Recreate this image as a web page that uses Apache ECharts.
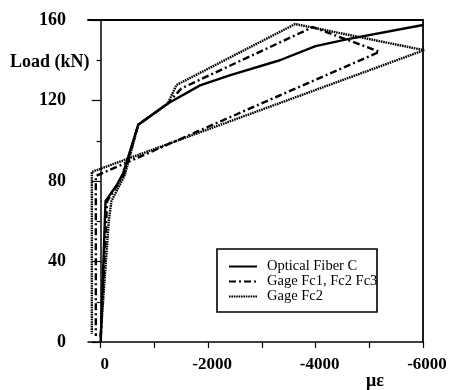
<!DOCTYPE html>
<html>
<head>
<meta charset="utf-8">
<script src="https://cdn.jsdelivr.net/npm/echarts@6/dist/echarts.min.js"></script>
<style>html,body{margin:0;padding:0;background:#fff}#c{width:450px;height:390px}</style>
</head>
<body>
<div id="c"></div>
<script>
// Optical Fiber C (solid)
const fiberStrain = [0, -90, -300, -420, -700, -1250, -1850, -2400, -3335, -4000, -4600, -6000];
const fiberLoad   = [0, 70, 78, 84, 108, 118.5, 127.5, 132.5, 140, 147, 150.5, 157.5];
// Gage Fc1, Fc2 Fc3 (dash-dot)
const gageAStrain = [0, -120, -430, -700, -1250, -1500, -3950, -5190, 90, 90];
const gageALoad   = [2, 70, 83, 108, 118.5, 126, 156.5, 144.2, 82.5, 3];
// Gage Fc2 (dotted)
const gageBStrain = [0, -150, -200, -450, -700, -1250, -1410, -3620, -6020, 165, 165];
const gageBLoad   = [3, 60, 70, 83, 108, 118.5, 127.7, 158, 145, 84.5, 4];

const seriesNames = ['Optical Fiber C', 'Gage Fc1, Fc2 Fc3', 'Gage Fc2'];
const xTickValues = [0, -1000, -2000, -3000, -4000, -5000, -6000];
const xLabelValues = [0, -2000, -4000, -6000];
const yTickLabels = [0, 40, 80, 120, 160];

const pairs = (xs, ys) => xs.map((x, i) => [x, ys[i]]);
const serif = '"Liberation Serif", "DejaVu Serif", serif';

const chart = echarts.init(document.getElementById('c'), null, {renderer: 'canvas'});
chart.setOption({
  animation: false,
  backgroundColor: '#fff',
  color: ['#000', '#000', '#000'],
  grid: {left: 88, right: 27, top: 20, bottom: 48, containLabel: false},
  xAxis: [{
    type: 'value', inverse: true, min: -6000, max: 236,
    axisLine: {onZero: false, lineStyle: {color: '#000', width: 1.5}},
    axisTick: {show: true, customValues: xTickValues, length: 6, lineStyle: {color: '#000', width: 1.2}},
    axisLabel: {customValues: xLabelValues, formatter: v => String(v), margin: 14, padding: [0, 0, 0, 8],
      color: '#000', fontFamily: serif, fontWeight: 'bold', fontSize: 17},
    splitLine: {show: false}
  }, {
    type: 'value', inverse: true, min: -6000, max: 236, position: 'top',
    axisLine: {onZero: false, lineStyle: {color: '#000', width: 1.8}},
    axisTick: {show: false}, axisLabel: {show: false}, splitLine: {show: false}
  }],
  yAxis: [{
    type: 'value', min: 0, max: 160, interval: 40,
    axisLine: {onZero: true, onZeroAxisIndex: 0, lineStyle: {color: '#000', width: 1.5}},
    axisTick: {show: true, length: 9, lineStyle: {color: '#000', width: 1.2}},
    minorTick: {show: true, splitNumber: 2, length: 4, lineStyle: {color: '#000', width: 1.2}},
    axisLabel: {customValues: yTickLabels, margin: 22, color: '#000', fontFamily: serif, fontWeight: 'bold', fontSize: 18},
    splitLine: {show: false}
  }, {
    type: 'value', min: 0, max: 160, position: 'right',
    axisLine: {show: true, onZero: false, lineStyle: {color: '#000', width: 1.8}},
    axisTick: {show: false}, axisLabel: {show: false}, splitLine: {show: false}
  }],
  legend: {
    orient: 'vertical', left: 228, top: 259, padding: 0,
    itemWidth: 28, itemHeight: 8, itemGap: 0,
    data: seriesNames,
    itemStyle: {opacity: 0},
    textStyle: {color: '#000', fontFamily: serif, fontSize: 14.5, lineHeight: 13.5, padding: [0, 0, 0, 5]}
  },
  series: [{
    name: seriesNames[0], type: 'line', symbol: 'none', showSymbol: false, clip: false,
    data: pairs(fiberStrain, fiberLoad),
    itemStyle: {color: '#000'},
    lineStyle: {color: '#000', width: 2.4, type: 'solid'}
  }, {
    name: seriesNames[1], type: 'line', symbol: 'none', showSymbol: false, clip: false,
    data: pairs(gageAStrain, gageALoad),
    itemStyle: {color: '#000'},
    lineStyle: {color: '#000', width: 2.4, type: [7, 3, 2, 3]}
  }, {
    name: seriesNames[2], type: 'line', symbol: 'none', showSymbol: false, clip: false,
    data: pairs(gageBStrain, gageBLoad),
    itemStyle: {color: '#000'},
    lineStyle: {color: '#000', width: 2.4, type: [1.6, 0.8]}
  }],
  graphic: [{
    type: 'rect', z: 10, silent: true,
    shape: {x: 217, y: 249, width: 160, height: 63},
    style: {fill: 'none', stroke: '#000', lineWidth: 1.6}
  }, {
    type: 'text', x: 10, y: 62,
    style: {text: 'Load (kN)', font: 'bold 18px ' + serif, fill: '#000', textAlign: 'left', textVerticalAlign: 'middle'}
  }, {
    type: 'text', x: 375, y: 381,
    style: {text: 'με', font: 'bold 18px ' + serif, fill: '#000', textAlign: 'center', textVerticalAlign: 'middle'}
  }]
});
</script>
</body>
</html>
